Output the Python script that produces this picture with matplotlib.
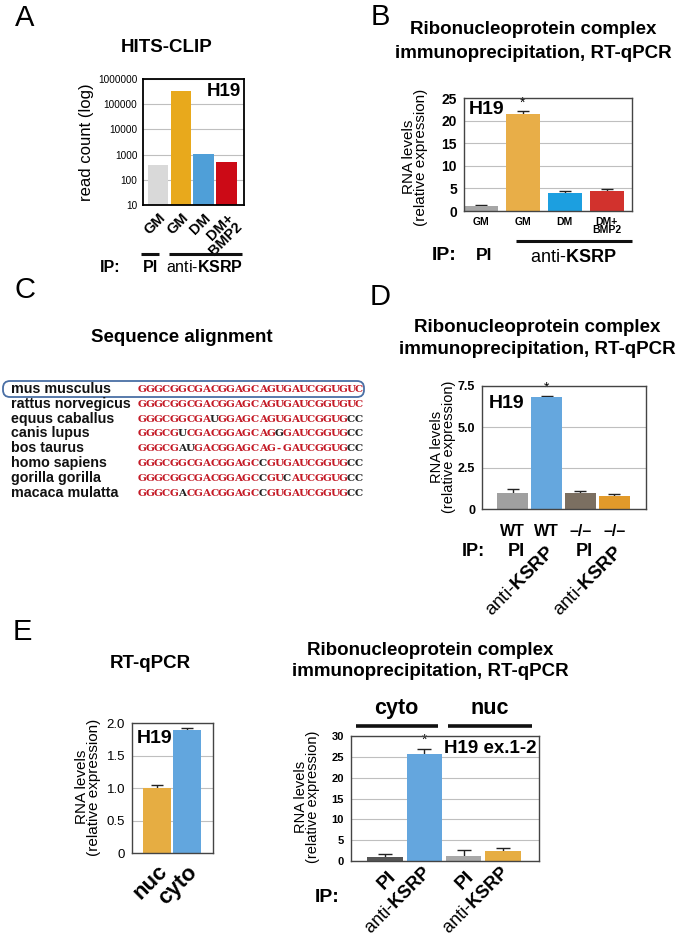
import matplotlib
matplotlib.use('Agg')
import matplotlib.pyplot as plt
import numpy as np
from matplotlib.lines import Line2D
from matplotlib.patches import FancyBboxPatch
from matplotlib import transforms

plt.rcParams['font.family'] = ['Liberation Sans', 'DejaVu Sans']
plt.rcParams['mathtext.fontset'] = 'custom'
plt.rcParams['mathtext.rm'] = 'Liberation Sans'
plt.rcParams['mathtext.bf'] = 'Liberation Sans:bold'
plt.rcParams['mathtext.it'] = 'Liberation Sans:italic'

W, H = 677, 938
DPI = 100

# ---------------- data ----------------
# Panel A: HITS-CLIP
a_labels = ['GM', 'GM', 'DM', 'DM+\nBMP2']
a_counts = [370, 330000, 1050, 500]
a_colors = ['#d9d9d9', '#e8a91c', '#4f9fd8', '#cc0a16']
a_yticks = [10, 100, 1000, 10000, 100000, 1000000]

# Panel B: RIP RT-qPCR
b_labels = ['GM', 'GM', 'DM', 'DM+\nBMP2']
b_values = [1.0, 21.5, 3.9, 4.5]
b_errors = [0.4, 0.6, 0.6, 0.3]
b_colors = ['#a6a6a6', '#e8ae48', '#1c9fe0', '#d2322d']
b_yticks = [0, 5, 10, 15, 20, 25]

# Panel C: sequence alignment
species = ['mus musculus', 'rattus norvegicus', 'equus caballus', 'canis lupus',
           'bos taurus', 'homo sapiens', 'gorilla gorilla', 'macaca mulatta']
sequences = ['GGGCGGCGACGGAGCAGUGAUCGGUGUC',
             'GGGCGGCGACGGAGCAGUGAUCGGUGUC',
             'GGGCGGCGAUGGAGCAGUGAUCGGUGCC',
             'GGGCGUCGACGGAGCAGGGAUCGGUGCC',
             'GGGCGAUGACGGAGCAG-GAUCGGUGCC',
             'GGGCGGCGACGGAGCCGUGAUCGGUGCC',
             'GGGCGGCGACGGAGCCGUCAUCGGUGCC',
             'GGGCGACGACGGAGCCGUGAUCGGUGCC']
divergent = [[], [], [9, 26, 27], [5, 17, 26, 27], [5, 6, 26, 27],
             [15, 26, 27], [15, 18, 26, 27], [5, 15, 26, 27]]

# Panel D
d_genotype = ['WT', 'WT', '\u2013/\u2013', '\u2013/\u2013']
d_ip = ['PI', 'anti-KSRP', 'PI', 'anti-KSRP']
d_values = [1.0, 6.8, 0.95, 0.8]
d_errors = [0.2, 0.1, 0.15, 0.1]
d_colors = ['#a0a0a0', '#65a7de', '#7b6f61', '#e29a2a']
d_yticks = [0, 2.5, 5.0, 7.5]
d_yticklabels = ['0', '2.5', '5.0', '7.5']

# Panel E left
e1_labels = ['nuc', 'cyto']
e1_values = [1.0, 1.89]
e1_errors = [0.04, 0.04]
e1_colors = ['#e6ad42', '#62a6de']
e1_yticks = [0, 0.5, 1.0, 1.5, 2.0]
e1_yticklabels = ['0', '0.5', '1.0', '1.5', '2.0']

# Panel E right
e2_ip = ['PI', 'anti-KSRP', 'PI', 'anti-KSRP']
e2_values = [1.0, 25.8, 1.3, 2.3]
e2_errors = [0.8, 1.2, 1.4, 0.8]
e2_colors = ['#555555', '#64a6de', '#a8a8a8', '#e6ad42']
e2_yticks = [0, 5, 10, 15, 20, 25, 30]

# ---------------- helpers ----------------
fig = plt.figure(figsize=(W / DPI, H / DPI), dpi=DPI)
fig.patch.set_facecolor('white')


def add_ax(l, t, r, b):
    return fig.add_axes([l / W, 1 - b / H, (r - l) / W, (b - t) / H])


def ftext(x, y, s, **kw):
    kw.setdefault('ha', 'center')
    kw.setdefault('va', 'center')
    return fig.text(x / W, 1 - y / H, s, **kw)


def fline(x0, x1, y, lw=2.2):
    fig.add_artist(Line2D([x0 / W, x1 / W], [1 - y / H, 1 - y / H],
                          transform=fig.transFigure, color='#111111', lw=lw,
                          solid_capstyle='butt'))


def style_ax(ax, spine_color='#444444', lw=1.0):
    for s in ax.spines.values():
        s.set_color(spine_color)
        s.set_linewidth(lw)
        s.set_zorder(5)
    ax.tick_params(length=0)
    ax.grid(axis='y', color='#bfbfbf', lw=0.8)
    ax.set_axisbelow(True)


def bars_with_err(ax, values, errors, colors, width, capsize=4):
    x = np.arange(len(values))
    ax.bar(x, values, width=width, color=colors, zorder=3)
    ax.errorbar(x, values, yerr=errors, fmt='none',
                ecolor='#222222', elinewidth=1.0, capsize=capsize, capthick=1.0,
                zorder=2)
    return x


KSRP = r'anti-$\mathbf{KSRP}$'

# ---------------- Panel A ----------------
ftext(25, 18, 'A', fontsize=21)
ftext(167, 47, 'HITS-CLIP', fontsize=13.5, fontweight='bold')
axA = add_ax(143, 79, 244, 205)
xa = np.arange(len(a_counts))
axA.bar(xa, a_counts, width=0.9, color=a_colors, zorder=2)
axA.set_yscale('log')
axA.set_ylim(10, 1e6)
axA.set_xlim(-0.66, 3.77)
axA.set_yticks(a_yticks)
axA.set_yticklabels([str(v) for v in a_yticks], fontsize=7.2)
axA.yaxis.set_minor_locator(matplotlib.ticker.NullLocator())
style_ax(axA, spine_color='#000000', lw=1.3)
axA.tick_params(axis='y', pad=4)
axA.set_xticks(xa)
axA.set_xticklabels(a_labels, rotation=45, ha='right', rotation_mode='anchor',
                    fontsize=10.5, fontweight='bold', linespacing=0.85)
axA.tick_params(axis='x', pad=4)
axA.text(0.97, 0.9, 'H19', transform=axA.transAxes, ha='right', va='center',
         fontsize=13.5, fontweight='bold')
ftext(87, 142, 'read count (log)', rotation=90, fontsize=12)
fline(141, 159, 254)
fline(169, 242, 254)
ftext(110, 267, 'IP:', fontsize=11.5, fontweight='bold')
ftext(150, 267, 'PI', fontsize=11.5, fontweight='bold')
ftext(205, 267, KSRP, fontsize=11.5)

# ---------------- Panel B ----------------
ftext(380, 17, 'B', fontsize=21)
ftext(533, 30, 'Ribonucleoprotein complex', fontsize=13.5, fontweight='bold')
ftext(533, 53, 'immunoprecipitation, RT-qPCR', fontsize=13.5, fontweight='bold')
axB = add_ax(464, 98, 632, 211)
xb = bars_with_err(axB, b_values, b_errors, b_colors, 0.8, capsize=4)
axB.set_xlim(-0.4, 3.6)
axB.set_ylim(0, 25)
axB.set_yticks(b_yticks)
axB.set_yticklabels([str(v) for v in b_yticks], fontsize=10, fontweight='bold')
style_ax(axB)
axB.tick_params(axis='y', pad=5)
axB.set_xticks(xb)
axB.set_xticklabels(b_labels, fontsize=7.5, fontweight='bold', linespacing=0.85)
axB.tick_params(axis='x', pad=4)
axB.text(xb[1], b_values[1] + b_errors[1] + 0.3, '*', ha='center', va='bottom',
         fontsize=10)
axB.text(0.03, 0.9, 'H19', transform=axB.transAxes, ha='left', va='center',
         fontsize=14, fontweight='bold')
ftext(415, 157, 'RNA levels\n(relative expression)', rotation=90, fontsize=11,
      linespacing=0.9)
fline(516, 632, 241)
ftext(444, 256, 'IP:', fontsize=14, fontweight='bold')
ftext(484, 256, 'PI', fontsize=12.5, fontweight='bold')
ftext(573, 258, KSRP, fontsize=13)

# ---------------- Panel C ----------------
ftext(25, 290, 'C', fontsize=21)
ftext(182, 337, 'Sequence alignment', fontsize=13.5, fontweight='bold')
row_y0, row_dy = 389, 14.8
seq_x0, char_w = 138, 8.04
for i, (sp, seq) in enumerate(zip(species, sequences)):
    y = row_y0 + i * row_dy
    ftext(11, y, sp, ha='left', fontsize=10.3, fontweight='bold', color='#111111')
    for j, ch in enumerate(seq):
        col = '#222222' if j in divergent[i] else '#c41a26'
        ftext(seq_x0 + (j + 0.5) * char_w, y + 0.5, ch, family='DejaVu Serif',
              fontweight='bold', fontsize=7.5, color=col)
box = FancyBboxPatch((3, H - 397), 361, 16,
                     boxstyle='round,pad=0,rounding_size=7',
                     transform=transforms.IdentityTransform(),
                     fill=False, edgecolor='#4a6fa5', lw=1.3)
fig.add_artist(box)

# ---------------- Panel D ----------------
ftext(380, 297, 'D', fontsize=21)
ftext(537, 327, 'Ribonucleoprotein complex', fontsize=13.5, fontweight='bold')
ftext(537, 350, 'immunoprecipitation, RT-qPCR', fontsize=13.5, fontweight='bold')
axD = add_ax(482, 386, 646, 509)
xd = bars_with_err(axD, d_values, d_errors, d_colors, 0.91, capsize=4)
axD.set_xlim(-0.9, 3.93)
axD.set_ylim(0, 7.5)
axD.set_yticks(d_yticks)
axD.set_yticklabels(d_yticklabels, fontsize=9, fontweight='bold')
style_ax(axD)
axD.tick_params(axis='y', pad=5)
axD.set_xticks(xd)
axD.set_xticklabels(d_genotype, fontsize=11.5, fontweight='bold')
axD.tick_params(axis='x', pad=11)
axD.text(xd[1], d_values[1] + d_errors[1] + 0.08, '*', ha='center', va='bottom',
         fontsize=10)
axD.text(0.04, 0.86, 'H19', transform=axD.transAxes, ha='left', va='center',
         fontsize=14, fontweight='bold')
ftext(443, 447, 'RNA levels\n(relative expression)', rotation=90, fontsize=10.5,
      linespacing=0.9)
transD = transforms.blended_transform_factory(axD.transData, fig.transFigure)
ftext(473, 552, 'IP:', fontsize=13, fontweight='bold')
for xi, lab in zip(xd, d_ip):
    if lab == 'PI':
        axD.text(xi + 0.1, 1 - 552 / H, 'PI', transform=transD, ha='center',
                 va='center', fontsize=13, fontweight='bold')
    else:
        axD.text(xi + 0.15, 1 - 550 / H, KSRP, transform=transD, ha='right',
                 va='center', rotation=45, rotation_mode='anchor', fontsize=13.5)

# ---------------- Panel E left ----------------
ftext(22, 632, 'E', fontsize=21)
ftext(150, 663, 'RT-qPCR', fontsize=13.5, fontweight='bold')
axE1 = add_ax(132, 723, 213, 853)
xe1 = bars_with_err(axE1, e1_values, e1_errors, e1_colors, 0.93, capsize=4)
axE1.set_xlim(-0.83, 1.87)
axE1.set_ylim(0, 2.0)
axE1.set_yticks(e1_yticks)
axE1.set_yticklabels(e1_yticklabels, fontsize=9.5)
style_ax(axE1)
axE1.tick_params(axis='y', pad=5)
axE1.set_xticks(xe1)
axE1.set_xticklabels(e1_labels, rotation=45, ha='right', rotation_mode='anchor',
                     fontsize=16, fontweight='bold')
axE1.tick_params(axis='x', pad=6)
axE1.text(0.06, 0.88, 'H19', transform=axE1.transAxes, ha='left', va='center',
          fontsize=14, fontweight='bold')
ftext(88, 787, 'RNA levels\n(relative expression)', rotation=90, fontsize=11,
      linespacing=0.9)

# ---------------- Panel E right ----------------
ftext(430, 650, 'Ribonucleoprotein complex', fontsize=13.5, fontweight='bold')
ftext(430, 672, 'immunoprecipitation, RT-qPCR', fontsize=13.5, fontweight='bold')
ftext(396, 708, 'cyto', fontsize=15.5, fontweight='bold')
ftext(490, 708, 'nuc', fontsize=15.5, fontweight='bold')
fline(356, 438, 726, lw=2.6)
fline(448, 532, 726, lw=2.6)
axE2 = add_ax(351, 736, 539, 861)
xe2 = bars_with_err(axE2, e2_values, e2_errors, e2_colors, 0.9, capsize=5)
axE2.set_xlim(-0.87, 3.92)
axE2.set_ylim(0, 30)
axE2.set_yticks(e2_yticks)
axE2.set_yticklabels([str(v) for v in e2_yticks], fontsize=8, fontweight='bold')
style_ax(axE2)
axE2.tick_params(axis='y', pad=5)
axE2.set_xticks([])
axE2.text(xe2[1], e2_values[1] + e2_errors[1] + 0.3, '*', ha='center',
          va='bottom', fontsize=10)
axE2.text(0.985, 0.9, 'H19 ex.1-2', transform=axE2.transAxes, ha='right',
          va='center', fontsize=13.5, fontweight='bold')
ftext(307, 797, 'RNA levels\n(relative expression)', rotation=90, fontsize=10.5,
      linespacing=0.9)
ftext(327, 897, 'IP:', fontsize=14, fontweight='bold')
transE = transforms.blended_transform_factory(axE2.transData, fig.transFigure)
for xi, lab in zip(xe2, e2_ip):
    if lab == 'PI':
        axE2.text(xi + 0.2, 1 - 874 / H, 'PI', transform=transE, ha='right',
                  va='center', rotation=45, rotation_mode='anchor', fontsize=14,
                  fontweight='bold')
    else:
        axE2.text(xi + 0.1, 1 - 870 / H, KSRP, transform=transE, ha='right',
                  va='center', rotation=45, rotation_mode='anchor', fontsize=13)

fig.savefig('out.png', dpi=DPI, facecolor='white')
